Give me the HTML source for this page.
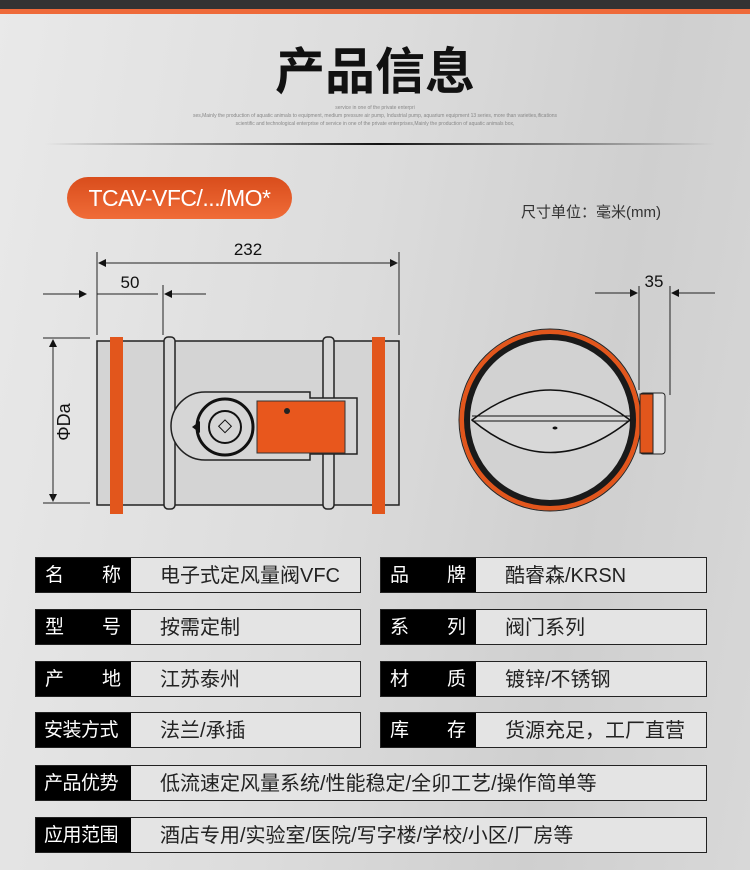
<!DOCTYPE html>
<html><head><meta charset="utf-8"><style>
html,body{margin:0;padding:0}
body{width:750px;height:870px;overflow:hidden;position:relative;font-family:"Liberation Sans","Noto Sans CJK SC",sans-serif;
background:linear-gradient(100deg,#e9e9e9 0%,#dcdcdc 45%,#cfcfcf 75%,#d8d8d8 100%)}
.topbar{position:absolute;left:0;top:0;width:750px;height:9px;background:#333}
.orbar{position:absolute;left:0;top:9px;width:750px;height:5px;background:#ee6a3a}
.title{position:absolute;left:0;width:750px;top:38px;text-align:center;font-size:50px;font-weight:bold;color:#111;letter-spacing:0px;font-family:"Noto Sans CJK SC",sans-serif;line-height:60px}
.small{position:absolute;left:0;width:750px;text-align:center;font-size:5px;color:#888;line-height:8px}
.hline{position:absolute;left:45px;width:670px;top:143px;height:2px;background:linear-gradient(90deg,rgba(0,0,0,0),#111 50%,rgba(0,0,0,0))}
.pill{position:absolute;left:67px;top:177px;width:225px;height:42px;border-radius:21px;background:linear-gradient(#d94d1c,#f06c38);color:#fff;font-size:23px;line-height:42px;text-align:center;letter-spacing:-0.5px}
.unit{position:absolute;left:521px;top:201px;font-size:15px;color:#333}
.row{position:absolute;height:36px;border:1px solid #222;background:#e4e4e4;box-sizing:border-box}
.lab{position:absolute;left:0;top:0;bottom:0;width:95px;background:#000;color:#fff;font-size:19px;line-height:36px;padding-left:9px;box-sizing:border-box;display:flex;justify-content:space-between;padding-right:10px;white-space:nowrap}
.lab.j{justify-content:flex-start;padding-left:8px;padding-right:0;letter-spacing:-0.5px}
.val{position:absolute;left:124px;top:0;font-size:20px;line-height:36px;color:#222;white-space:nowrap}
</style></head><body>
<div class="topbar"></div><div class="orbar"></div>
<div class="title">产品信息</div>
<div class="small" style="top:104px">service in one of the private enterpri</div>
<div class="small" style="top:112px">ses,Mainly the production of aquatic animals to equipment, medium pressure air pump, Industrial pump, aquarium equipment 13 series, more than varieties,ifications</div>
<div class="small" style="top:120px">scientific and technological enterprise of service in one of the private enterprises,Mainly the production of aquatic animals box,</div>
<div class="hline"></div>
<div class="pill">TCAV-VFC/.../MO*</div>
<div class="unit">尺寸单位：毫米(mm)</div>

<svg style="position:absolute;left:0;top:0" width="750" height="550" viewBox="0 0 750 550">
<defs><marker id="a" markerWidth="8" markerHeight="8" refX="7" refY="4" orient="auto" markerUnits="userSpaceOnUse"><path d="M0,0 L8,4 L0,8z" fill="#111"/></marker></defs>
<g stroke="#222" stroke-width="1" fill="none">
<line x1="97" y1="252" x2="97" y2="335"/><line x1="399" y1="252" x2="399" y2="335"/>
<line x1="163" y1="285" x2="163" y2="335"/>
<line x1="99" y1="263" x2="397" y2="263" marker-end="url(#a)"/>
<line x1="397" y1="263" x2="99" y2="263" marker-end="url(#a)"/>
<line x1="43" y1="294" x2="86" y2="294" marker-end="url(#a)"/>
<line x1="97" y1="294" x2="158" y2="294"/>
<line x1="206" y1="294" x2="165" y2="294" marker-end="url(#a)"/>
<line x1="43" y1="338" x2="90" y2="338"/><line x1="43" y1="503" x2="90" y2="503"/>
<line x1="53" y1="340" x2="53" y2="501" marker-end="url(#a)"/>
<line x1="53" y1="501" x2="53" y2="340" marker-end="url(#a)"/>
<line x1="639" y1="286" x2="639" y2="390"/><line x1="670" y1="286" x2="670" y2="395"/>
<line x1="595" y1="293" x2="637" y2="293" marker-end="url(#a)"/>
<line x1="715" y1="293" x2="672" y2="293" marker-end="url(#a)"/>
</g>
<g font-family="Liberation Sans,sans-serif" font-size="17" fill="#111">
<text x="248" y="255" text-anchor="middle">232</text>
<text x="130" y="288" text-anchor="middle">50</text>
<text x="654" y="287" text-anchor="middle">35</text>
<text transform="translate(70,422) rotate(-90)" text-anchor="middle" font-size="18">ΦDa</text>
</g>
<rect x="97" y="341" width="302" height="164" fill="#d4d4d4" stroke="#222" stroke-width="1.5"/>
<rect x="164" y="337" width="11" height="172" rx="4" fill="#d8d8d8" stroke="#222" stroke-width="1.5"/>
<rect x="323" y="337" width="11" height="172" rx="4" fill="#d8d8d8" stroke="#222" stroke-width="1.5"/>
<rect x="110" y="337" width="13" height="177" fill="#e2561c"/>
<rect x="372" y="337" width="13" height="177" fill="#e2561c"/>
<path d="M205,392 L310,392 L310,398 L357,398 L357,454 L310,454 L310,460 L205,460 A34,34 0 0 1 205,392z" fill="#d6d6d6" stroke="#222" stroke-width="1.5"/>
<circle cx="225" cy="427" r="28" fill="#d6d6d6" stroke="#111" stroke-width="3"/>
<circle cx="225" cy="427" r="16" fill="#d6d6d6" stroke="#111" stroke-width="2"/>
<rect x="220" y="422" width="9" height="9" transform="rotate(45 225 427)" fill="none" stroke="#111"/>
<path d="M192,427 L200,421 L200,433z" fill="#111"/>
<rect x="257" y="401" width="88" height="52" fill="#e8571d" stroke="#333"/>
<circle cx="287" cy="411" r="3" fill="#222"/>
<circle cx="550" cy="420" r="88" fill="#d2d2d2" stroke="#e2561c" stroke-width="5"/>
<circle cx="550" cy="420" r="83" fill="none" stroke="#1a1a1a" stroke-width="6"/>
<circle cx="550" cy="420" r="91" fill="none" stroke="#222" stroke-width="1"/>
<path d="M472,420 Q550,360 630,420 Q550,485 472,420z" fill="#d8d8d8" stroke="#111" stroke-width="1.5"/>
<line x1="472" y1="416" x2="630" y2="416" stroke="#111"/><line x1="472" y1="421" x2="630" y2="421" stroke="#111"/>
<ellipse cx="555" cy="428" rx="2.5" ry="1.5" fill="#111"/>
<rect x="640" y="393" width="25" height="61" rx="3" fill="#e0e0e0" stroke="#222"/>
<rect x="640" y="394" width="13" height="59" fill="#e2561c" stroke="#222"/>
</svg>

<div class="row" style="left:35px;top:557px;width:326px"><div class="lab"><span>名</span><span>称</span></div><div class="val">电子式定风量阀VFC</div></div>
<div class="row" style="left:380px;top:557px;width:327px"><div class="lab"><span>品</span><span>牌</span></div><div class="val">酷睿森/KRSN</div></div>
<div class="row" style="left:35px;top:609px;width:326px"><div class="lab"><span>型</span><span>号</span></div><div class="val">按需定制</div></div>
<div class="row" style="left:380px;top:609px;width:327px"><div class="lab"><span>系</span><span>列</span></div><div class="val">阀门系列</div></div>
<div class="row" style="left:35px;top:661px;width:326px"><div class="lab"><span>产</span><span>地</span></div><div class="val">江苏泰州</div></div>
<div class="row" style="left:380px;top:661px;width:327px"><div class="lab"><span>材</span><span>质</span></div><div class="val">镀锌/不锈钢</div></div>
<div class="row" style="left:35px;top:712px;width:326px"><div class="lab j">安装方式</div><div class="val">法兰/承插</div></div>
<div class="row" style="left:380px;top:712px;width:327px"><div class="lab"><span>库</span><span>存</span></div><div class="val">货源充足，工厂直营</div></div>
<div class="row" style="left:35px;top:765px;width:672px"><div class="lab j">产品优势</div><div class="val">低流速定风量系统/性能稳定/全卯工艺/操作简单等</div></div>
<div class="row" style="left:35px;top:817px;width:672px"><div class="lab j">应用范围</div><div class="val">酒店专用/实验室/医院/写字楼/学校/小区/厂房等</div></div>
</body></html>
